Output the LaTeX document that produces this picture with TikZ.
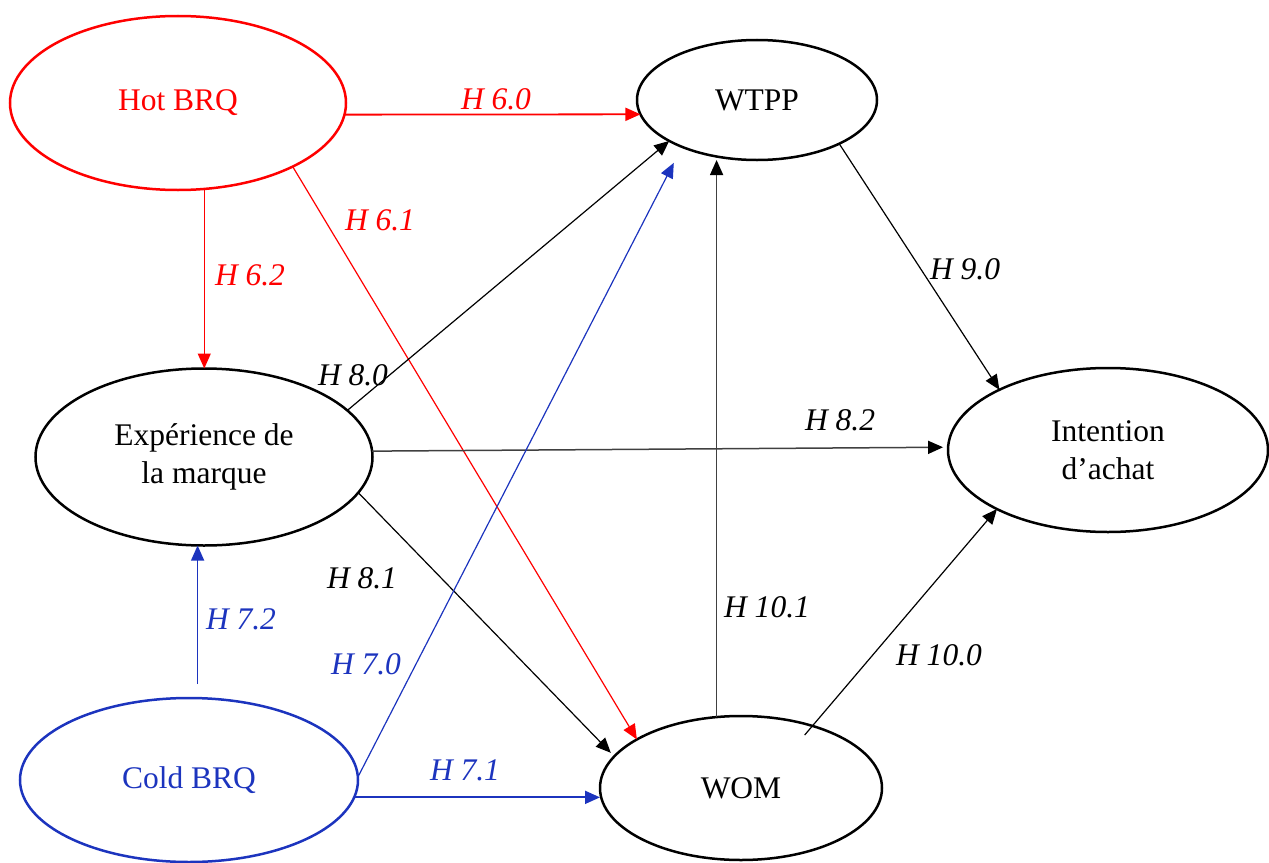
\documentclass[tikz,border=0pt]{standalone}
\usepackage{fontspec}
\setmainfont{Liberation Serif}
\usetikzlibrary{shapes.geometric,arrows.meta}
\definecolor{cred}{RGB}{255,0,0}
\definecolor{cblue}{RGB}{28,52,190}
\begin{document}
\begin{tikzpicture}[x=1bp,y=-1bp,
  every node/.style={font=\fontsize{31.5bp}{37.8bp}\selectfont},
  var/.style={ellipse, draw, line width=2.5bp, inner sep=0pt, outer sep=0pt, align=center},
  lab/.style={inner sep=0pt, font=\fontsize{31.5bp}{37.8bp}\selectfont\itshape},
  arr/.style={line width=1.2bp, -{Triangle[length=15bp,width=13bp]}},
  grayarr/.style={line width=1.5bp, black!75, -{Triangle[length=15bp,width=13bp,color=black]}},
]
\useasboundingbox (0,0) rectangle (1269,863);

% variables
\node[var, cred, minimum width=336bp, minimum height=174bp] (hot) at (178,103) {Hot BRQ};
\node[var, minimum width=240bp, minimum height=120bp] (wtpp) at (757,100) {WTPP};
\node[var, minimum width=337bp, minimum height=177bp] (exp) at (204,457) {Expérience de\\la marque};
\node[var, minimum width=320bp, minimum height=164bp] (int) at (1108,450) {Intention\\d’achat};
\node[var, cblue, minimum width=338bp, minimum height=164bp] (cold) at (189,780) {Cold BRQ};
\node[var, minimum width=282bp, minimum height=144bp] (wom) at (741,788) {WOM};

% red paths
\draw[arr, cred, line width=1.8bp] (hot.-4) -- (wtpp.187);
\draw[arr, cred] (hot.-29) -- (wom.155);
\draw[arr, cred] (hot.-73) -- (hot.-73 |- exp.north);

% black paths
\draw[arr] (exp.18) -- (wtpp.205);
\draw[grayarr, shorten >=5bp] (exp.2) -- (int.179);
\draw[arr, shorten >=5bp] (exp.-13) -- (wom.166);
\draw[grayarr] (wom.109) -- (wom.109 |- wtpp.south);
\draw[arr] (wtpp.-28) -- (int.151);
\draw[arr, shorten <=-12bp] (wom.41) -- (int.208);

% blue paths
\draw[arr, cblue, shorten >=18bp] (cold.1) -- (wtpp.212);
\draw[arr, cblue, shorten <=14bp] (cold.84) -- (cold.84 |- exp.south);
\draw[arr, cblue, line width=1.8bp] (cold.-6) -- (cold.-6 -| wom.west);

% labels
\node[lab, cred] (l60) at (496,99) {H 6.0};
\node[lab, cred] (l61) at (380,220) {H 6.1};
\node[lab, cred] (l62) at (250,275) {H 6.2};
\node[lab] (l80) at (353,375) {H 8.0};
\node[lab] (l90) at (965,269) {H 9.0};
\node[lab] (l82) at (840,420) {H 8.2};
\node[lab] (l81) at (362,578) {H 8.1};
\node[lab, cblue] (l72) at (241,619) {H 7.2};
\node[lab, cblue] (l70) at (366,664) {H 7.0};
\node[lab, cblue] (l71) at (465,770) {H 7.1};
\node[lab] (l101) at (767,607) {H 10.1};
\node[lab] (l100) at (939,655) {H 10.0};
\end{tikzpicture}
\end{document}
